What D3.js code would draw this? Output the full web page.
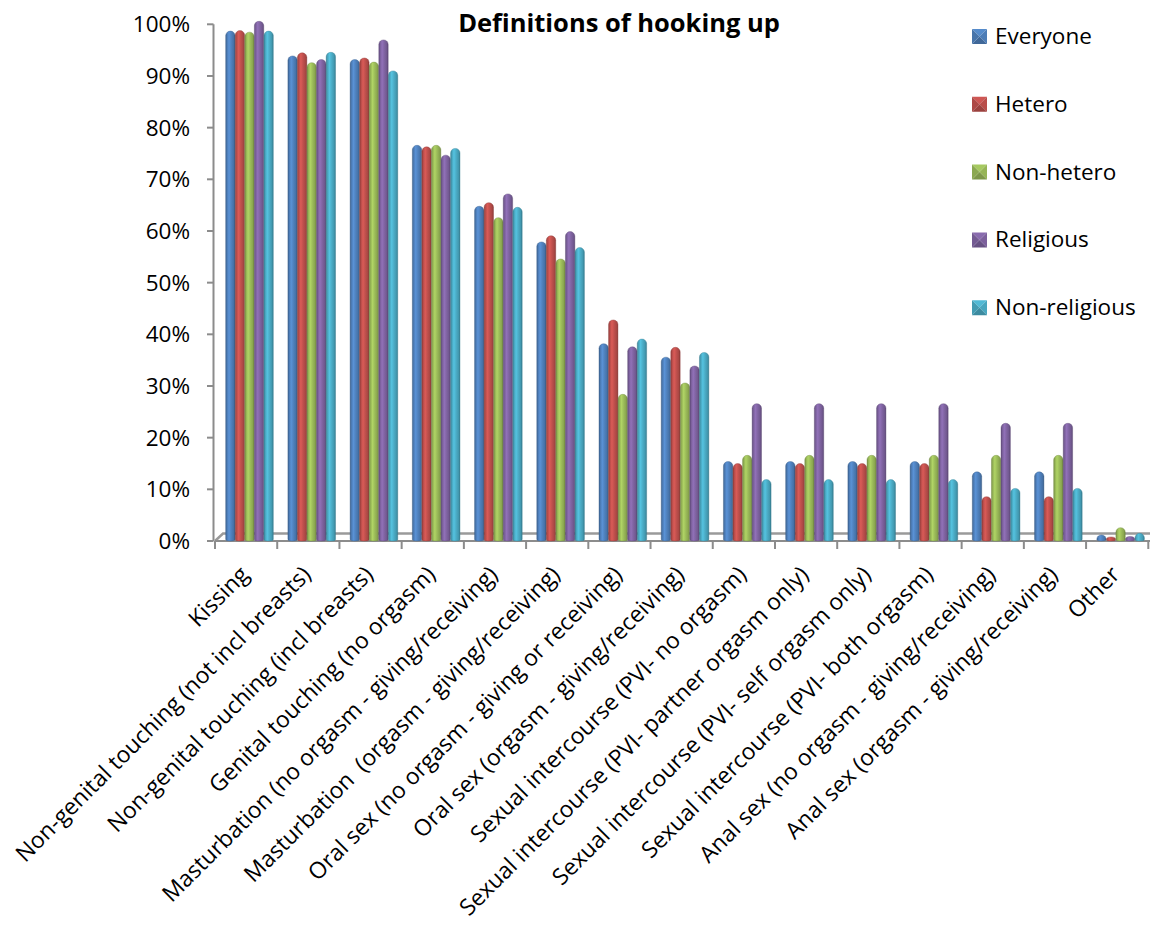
<!DOCTYPE html>
<html><head><meta charset="utf-8">
<script src="https://cdn.jsdelivr.net/npm/d3@7"></script>
<style>
html,body{margin:0;padding:0;background:#fff;}
svg text{font-family:"Open Sans","Noto Sans",sans-serif;fill:#000;}
</style></head>
<body>
<svg id="chart" width="1150" height="927"></svg>
<script>
const categories = [
  "Kissing",
  "Non-genital touching (not incl breasts)",
  "Non-genital touching (incl breasts)",
  "Genital touching (no orgasm)",
  "Masturbation (no orgasm - giving/receiving)",
  "Masturbation  (orgasm - giving/receiving)",
  "Oral sex (no orgasm - giving or receiving)",
  "Oral sex (orgasm - giving/receiving)",
  "Sexual intercourse (PVI- no orgasm)",
  "Sexual intercourse (PVI- partner orgasm only)",
  "Sexual intercourse (PVI- self orgasm only)",
  "Sexual intercourse (PVI- both orgasm)",
  "Anal sex (no orgasm - giving/receiving)",
  "Anal sex (orgasm - giving/receiving)",
  "Other"
];
const seriesNames = ["Everyone", "Hetero", "Non-hetero", "Religious", "Non-religious"];
const seriesColors = ["#4F81BD", "#C0504D", "#9BBB59", "#8064A2", "#4BACC6"];
const everyone     = [98.1, 93.3, 92.6, 76.0, 64.2, 57.3, 37.6, 35.0, 14.8, 14.8, 14.8, 14.8, 12.8, 12.8, 0.6];
const hetero       = [98.2, 93.9, 92.9, 75.7, 64.9, 58.5, 42.2, 36.9, 14.4, 14.4, 14.4, 14.4, 8.0, 8.0, 0.2];
const nonHetero    = [97.9, 92.0, 92.1, 76.0, 62.0, 54.0, 27.8, 30.0, 16.0, 16.0, 16.0, 16.0, 16.0, 16.0, 2.0];
const religious    = [100.0, 92.6, 96.4, 74.1, 66.6, 59.3, 37.0, 33.3, 26.0, 26.0, 26.0, 26.0, 22.2, 22.2, 0.3];
const nonReligious = [98.1, 94.0, 90.4, 75.4, 64.0, 56.2, 38.5, 35.9, 11.3, 11.3, 11.3, 11.3, 9.6, 9.6, 0.9];
const seriesValues = [everyone, hetero, nonHetero, religious, nonReligious];
const yTickValues = [0, 10, 20, 30, 40, 50, 60, 70, 80, 90, 100];
const yTickLabels = ["0%", "10%", "20%", "30%", "40%", "50%", "60%", "70%", "80%", "90%", "100%"];
const titleText = "Definitions of hooking up";

const svg = d3.select("#chart");
const defs = svg.append("defs");
const FS = 22.5;

const plotLeft = 215, plotRight = 1148.3, yZero = 541, yTop = 24.3;
const x = d3.scaleBand().domain(d3.range(categories.length)).range([plotLeft, plotRight]).padding(0);
const xs = d3.scaleBand().domain(d3.range(seriesNames.length)).range([10.5, 58.5]).padding(0.02);
const y = d3.scaleLinear().domain([0, 100]).range([yZero, yTop]);

// gradients
seriesColors.forEach((c, i) => {
  const col = d3.color(c);
  const g = defs.append("linearGradient").attr("id", "cyl" + i)
    .attr("x1", "0%").attr("x2", "100%").attr("y1", "0%").attr("y2", "0%");
  [[0, col.darker(0.9)], [0.12, col.darker(0.2)], [0.35, col.brighter(0.35)], [0.6, col], [0.85, col.darker(0.35)], [1, col.darker(1.0)]]
    .forEach(([o, cc]) => g.append("stop").attr("offset", o).attr("stop-color", cc.formatHex()));
});

// floor (3D base)
svg.append("path").attr("d", `M${plotLeft},${yZero} L${plotLeft + 8},${yZero - 7.5} L${plotRight + 2},${yZero - 7.5}`)
  .attr("fill", "none").attr("stroke", "#9a9a9a").attr("stroke-width", 2.5);
svg.append("line").attr("x1", plotLeft).attr("x2", plotRight + 2).attr("y1", yZero).attr("y2", yZero)
  .attr("stroke", "#8c8c8c").attr("stroke-width", 2);

// y axis
svg.append("line").attr("x1", plotLeft - 1.5).attr("x2", plotLeft - 1.5).attr("y1", yTop).attr("y2", yZero)
  .attr("stroke", "#8c8c8c").attr("stroke-width", 2);
const yAx = svg.append("g");
yTickValues.forEach((v, i) => {
  yAx.append("line").attr("x1", plotLeft - 8).attr("x2", plotLeft - 1.5).attr("y1", y(v)).attr("y2", y(v))
    .attr("stroke", "#8c8c8c").attr("stroke-width", 2);
  yAx.append("text").attr("x", 190).attr("y", y(v)).attr("dy", "0.36em")
    .attr("text-anchor", "end").attr("font-size", FS).text(yTickLabels[i]);
});

// x ticks
d3.range(categories.length + 1).forEach(i => {
  const xx = plotLeft + i * x.bandwidth();
  svg.append("line").attr("x1", xx).attr("x2", xx).attr("y1", yZero).attr("y2", yZero + 8)
    .attr("stroke", "#8c8c8c").attr("stroke-width", 2);
});

// bars
const baseY = yZero - 1.5;
function barPath(x0, w, v) {
  const peak = y(v) - 3;
  const h = baseY - peak;
  const ry = Math.min(4.5, h);
  const bodyTop = peak + ry;
  const r = w / 2;
  return `M${x0},${baseY} L${x0},${bodyTop} A${r},${ry} 0 0 1 ${x0 + w},${bodyTop} L${x0 + w},${baseY} A${r},1.5 0 0 1 ${x0},${baseY} Z`;
}
const groups = svg.append("g").selectAll("g").data(categories).join("g")
  .attr("transform", (d, i) => `translate(${x(i)},0)`);
groups.each(function (d, ci) {
  const g = d3.select(this);
  seriesValues.forEach((vals, si) => {
    const v = vals[ci];
    g.append("path").attr("d", barPath(xs(si), xs.bandwidth(), v))
      .attr("fill", `url(#cyl${si})`)
      .attr("stroke", d3.color(seriesColors[si]).darker(0.8).formatHex()).attr("stroke-width", 0.4);
  });
});

// x labels
svg.append("g").selectAll("text").data(categories).join("text")
  .attr("transform", (d, i) => `translate(${x(i) + x.bandwidth() / 2 + 4},${yZero + 35}) rotate(-45)`)
  .attr("text-anchor", "end").attr("font-size", 22.9).style("white-space", "pre")
  .text(d => d);

// title
svg.append("text").attr("x", 619).attr("y", 32).attr("text-anchor", "middle")
  .attr("font-size", 25.5).attr("font-weight", "bold").text(titleText);

// legend
const leg = svg.append("g");
seriesNames.forEach((n, i) => {
  const by = 44 + i * 67.8;
  const sx = 972, sy = by - 15, s = 15;
  const col = d3.color(seriesColors[i]);
  const cx = sx + s / 2, cy = sy + s / 2;
  const tri = [
    [[sx, sy], [sx + s, sy], [cx, cy], col.brighter(0.2)],
    [[sx + s, sy], [sx + s, sy + s], [cx, cy], col.darker(0.1)],
    [[sx + s, sy + s], [sx, sy + s], [cx, cy], col.darker(0.6)],
    [[sx, sy + s], [sx, sy], [cx, cy], col.darker(0.3)]
  ];
  tri.forEach(t => leg.append("path").attr("d", `M${t[0]}L${t[1]}L${t[2]}Z`).attr("fill", t[3].formatHex()));
  leg.append("text").attr("x", 995).attr("y", by).attr("font-size", FS).text(n);
});
</script>
</body></html>
